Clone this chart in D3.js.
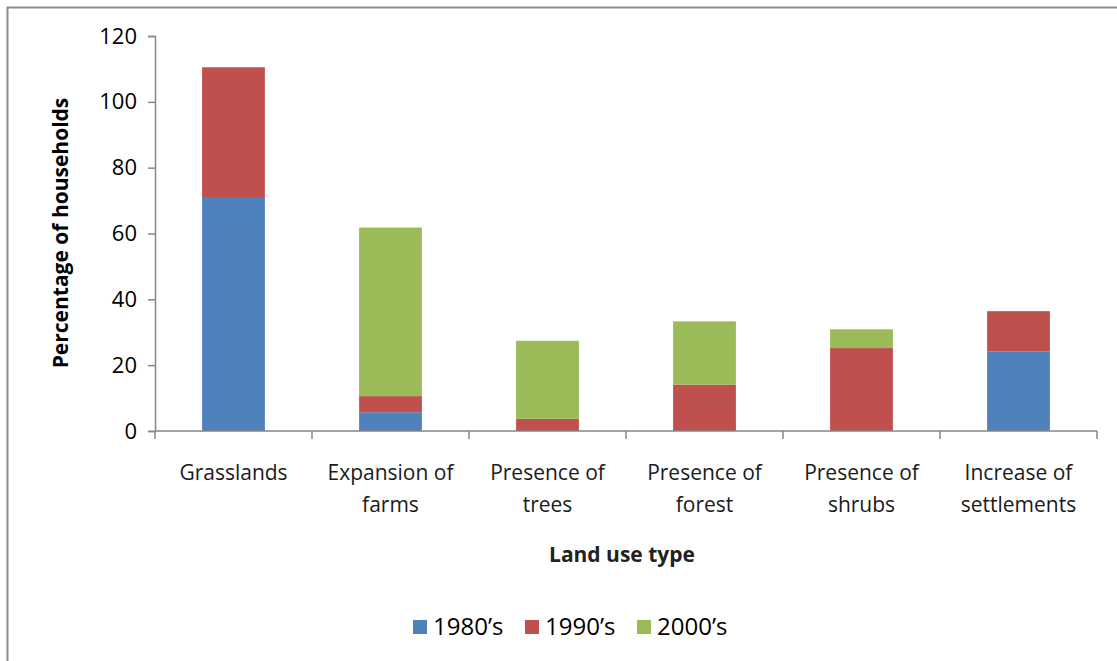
<!DOCTYPE html>
<html>
<head>
<meta charset="utf-8">
<script src="https://cdn.jsdelivr.net/npm/d3@7"></script>
<style>
  body { margin: 0; background: #fff; }
  svg { display: block; font-family: "Open Sans", sans-serif; }
</style>
</head>
<body>
<svg id="chart" width="1117" height="661"></svg>
<script>
// land use types, each label split in lines
var categories = [
  ["Grasslands"],
  ["Expansion of", "farms"],
  ["Presence of", "trees"],
  ["Presence of", "forest"],
  ["Presence of", "shrubs"],
  ["Increase of", "settlements"]
];
var seriesNames = ["1980\u2019s", "1990\u2019s", "2000\u2019s"];
var v1980 = [70.8, 5.7, 0, 0, 0, 24.1];
var v1990 = [39.7, 4.9, 3.7, 14.1, 25.2, 12.3];
var v2000 = [0, 51.2, 23.7, 19.2, 5.7, 0];
var yTicks = [0, 20, 40, 60, 80, 100, 120];

var colors = ["#4F81BD", "#C0504D", "#9BBB59"];

var svg = d3.select("#chart");

// outer frame (only top and left edges are visible in the picture)
svg.append("rect")
  .attr("x", 7.5).attr("y", 7.5)
  .attr("width", 1130).attr("height", 680)
  .style("fill", "none")
  .style("stroke", "#8c8c8c")
  .style("stroke-width", 2);

var plotLeft = 155, plotRight = 1097, plotTop = 36, plotBottom = 431;

var keys = categories.map(function (c) { return c.join(" "); });
var rows = keys.map(function (k, i) {
  return { key: k, s0: v1980[i], s1: v1990[i], s2: v2000[i] };
});

var x = d3.scaleBand().domain(keys).range([plotLeft, plotRight]).paddingInner(0.6).paddingOuter(0.3);
var y = d3.scaleLinear().domain([0, 120]).range([plotBottom, plotTop]);

var stack = d3.stack().keys(["s0", "s1", "s2"]);
var layers = stack(rows);

var g = svg.append("g");
g.selectAll("g.layer")
  .data(layers)
  .enter()
  .append("g")
  .attr("class", "layer")
  .style("fill", function (d, i) { return colors[i]; })
  .selectAll("rect")
  .data(function (d) { return d; })
  .enter()
  .append("rect")
  .attr("x", function (d) { return x(d.data.key); })
  .attr("width", x.bandwidth())
  .attr("y", function (d) { return y(d[1]); })
  .attr("height", function (d) { return y(d[0]) - y(d[1]); });

// y axis
var yAxis = svg.append("g")
  .attr("transform", "translate(" + plotLeft + ",0)")
  .call(d3.axisLeft(y).tickValues(yTicks).tickSize(7).tickPadding(11));
yAxis.select(".domain").style("stroke", "#868686").style("stroke-width", 1.5);
yAxis.selectAll(".tick line").style("stroke", "#868686").style("stroke-width", 1.5);
yAxis.selectAll("text")
  .style("font-size", "22px")
  .style("font-family", "Open Sans")
  .style("fill", "#000");

// x axis: line plus ticks at category boundaries
var step = (plotRight - plotLeft) / categories.length;
svg.append("line")
  .attr("x1", plotLeft).attr("x2", plotRight)
  .attr("y1", plotBottom).attr("y2", plotBottom)
  .style("stroke", "#868686").style("stroke-width", 1.5);
for (var i = 0; i <= categories.length; i++) {
  svg.append("line")
    .attr("x1", plotLeft + i * step).attr("x2", plotLeft + i * step)
    .attr("y1", plotBottom).attr("y2", plotBottom + 8)
    .style("stroke", "#868686").style("stroke-width", 1.5);
}

// category labels
categories.forEach(function (lines, i) {
  var cx = x(keys[i]) + x.bandwidth() / 2;
  var t = svg.append("text")
    .attr("x", cx)
    .attr("y", 480)
    .style("text-anchor", "middle")
    .style("font-size", "21px")
    .style("fill", "#1a1a1a");
  lines.forEach(function (ln, j) {
    t.append("tspan").attr("x", cx).attr("y", 480 + j * 32).text(ln);
  });
});

// axis titles
svg.append("text")
  .attr("transform", "translate(68,233) rotate(-90)")
  .style("text-anchor", "middle")
  .style("font-size", "21px")
  .style("font-weight", "bold")
  .text("Percentage of households");

svg.append("text")
  .attr("x", 622).attr("y", 562)
  .style("text-anchor", "middle")
  .style("font-size", "21px")
  .style("font-weight", "bold")
  .style("fill", "#222")
  .text("Land use type");

// legend
var legendX = [413, 525, 637];
seriesNames.forEach(function (name, i) {
  svg.append("rect")
    .attr("x", legendX[i]).attr("y", 620)
    .attr("width", 14).attr("height", 14)
    .style("fill", colors[i]);
  svg.append("text")
    .attr("x", legendX[i] + 20).attr("y", 635)
    .style("font-size", "24px")
    .text(name);
});
</script>
</body>
</html>
